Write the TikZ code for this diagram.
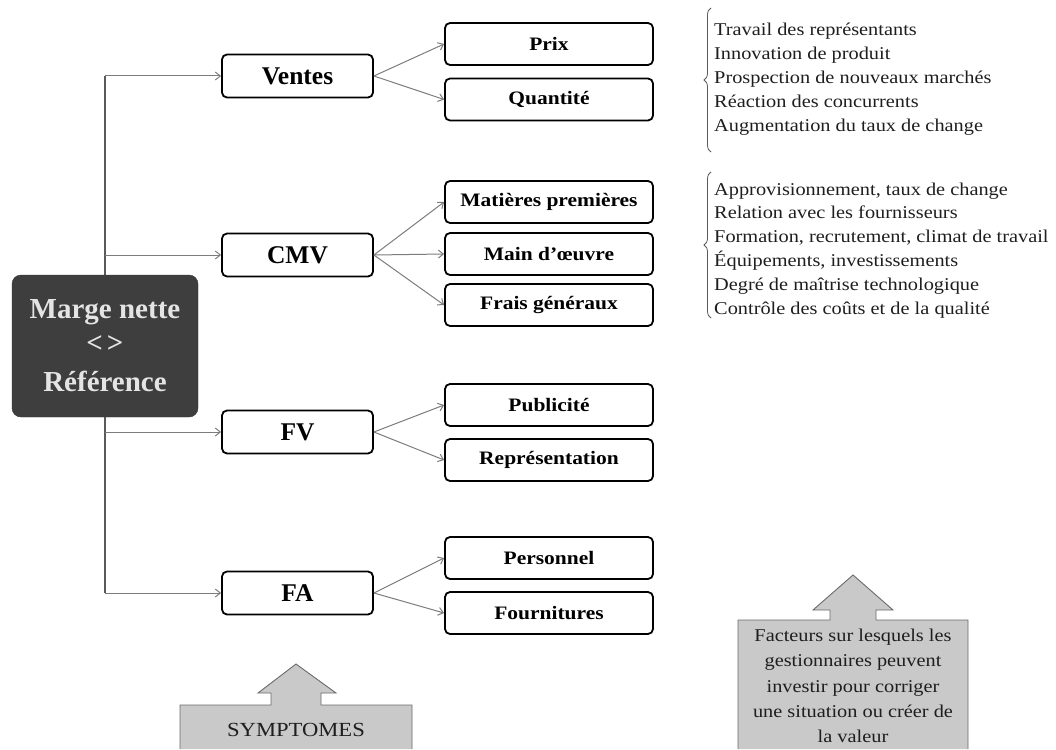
\documentclass[tikz,border=0pt]{standalone}
\usepackage{fontspec}
\setmainfont{Liberation Serif}
\newfontfamily\widefont{Liberation Serif}[FakeStretch=1.13]
\usetikzlibrary{arrows.meta,decorations.pathreplacing}

\definecolor{conn}{HTML}{7C7C7C}
\definecolor{spine}{HTML}{5A5A5A}
\definecolor{darkbox}{HTML}{3E3E3E}
\definecolor{boxtext}{HTML}{E4E4E4}
\definecolor{panel}{HTML}{C9C9C9}
\definecolor{panelrim}{HTML}{6A6A6A}
\definecolor{ink}{HTML}{1E1E1E}

\tikzset{
  mainbox/.style={draw=darkbox!80!black, fill=darkbox, rounded corners=9pt,
    minimum width=186pt, minimum height=142pt, align=center, text=boxtext,
    font=\fontsize{29}{37}\selectfont\bfseries},
  groupbox/.style={draw=black, line width=1.8pt, fill=white, rounded corners=5pt,
    minimum width=151pt, minimum height=43pt, inner sep=0pt,
    font=\fontsize{25.5}{28}\selectfont\bfseries},
  itembox/.style={draw=black, line width=1.8pt, fill=white, rounded corners=5pt,
    minimum width=208pt, minimum height=42pt, inner sep=0pt,
    font=\widefont\fontsize{19}{20}\selectfont\bfseries},
  link/.style={draw=conn, line width=1pt, -{Straight Barb[length=5pt,width=8pt]}},
  spineline/.style={draw=spine, line width=1.1pt},
  listline/.style={anchor=base west, inner sep=0pt, text=ink,
    font=\widefont\fontsize{18}{20}\selectfont},
  bracket/.style={draw=spine, line width=0.8pt, decorate,
    decoration={brace, amplitude=7pt}},
  panelshape/.style={fill=panel, draw=panelrim, line width=0.9pt},
  paneltext/.style={align=center, text=ink, inner sep=0pt,
    font=\widefont\fontsize{18}{25.3}\selectfont},
}

\begin{document}
\begin{tikzpicture}[x=1pt,y=-1pt]
\useasboundingbox (0,0) rectangle (1056,749);

% spine joining the four groups
\coordinate (s1) at (105,76);
\coordinate (s2) at (105,255);
\coordinate (s3) at (105,432);
\coordinate (s4) at (105,593);
\draw[spineline] (s1) -- (s4);

% central box
\node[mainbox] (marge) at (105,346) {Marge nette\\[-3pt]<\kern4pt>\\[2pt]Référence};

% groups
\node[groupbox] (ventes) at (297.5,76)  {Ventes};
\node[groupbox] (cmv)    at (297.5,255) {CMV};
\node[groupbox] (fv)     at (297.5,432) {FV};
\node[groupbox] (fa)     at (297.5,593) {FA};

% items
\node[itembox] (prix)  at (549,44)   {Prix};
\node[itembox] (quant) at (549,99.5) {Quantité};
\node[itembox] (mat)   at (549,202)  {Matières premières};
\node[itembox] (main)  at (549,254)  {Main d’œuvre};
\node[itembox] (frais) at (549,305)  {Frais généraux};
\node[itembox] (pub)   at (549,405)  {Publicité};
\node[itembox] (rep)   at (549,460)  {Représentation};
\node[itembox] (pers)  at (549,558)  {Personnel};
\node[itembox] (four)  at (549,613)  {Fournitures};

% connectors
\draw[link] (s1) -- (ventes.west);
\draw[link] (s2) -- (cmv.west);
\draw[link] (s3) -- (fv.west);
\draw[link] (s4) -- (fa.west);
\draw[link] (ventes.east) -- (prix.west);
\draw[link] (ventes.east) -- (quant.west);
\draw[link] (cmv.east) -- (mat.west);
\draw[link] (cmv.east) -- (main.west);
\draw[link] (cmv.east) -- (frais.west);
\draw[link] (fv.east) -- (pub.west);
\draw[link] (fv.east) -- (rep.west);
\draw[link] (fa.east) -- (pers.west);
\draw[link] (fa.east) -- (four.west);

% factor lists
\draw[bracket] (711,152) -- (711,8);
\foreach \t [count=\i] in {Travail des représentants,Innovation de produit,
    Prospection de nouveaux marchés,Réaction des concurrents,
    Augmentation du taux de change}
  \node[listline] (ventesf\i) at (714,{36+23.8*(\i-1)}) {\t};

\draw[bracket] (711,318) -- (711,172);
\foreach \t [count=\i] in {{Approvisionnement, taux de change},
    Relation avec les fournisseurs,
    {Formation, recrutement, climat de travail},
    {Équipements, investissements},
    Degré de maîtrise technologique,
    Contrôle des coûts et de la qualité}
  \node[listline] (cmvf\i) at (714,{195+23.8*(\i-1)}) {\t};

% bottom panels with upward arrows
\path[panelshape] (180,749) -- (180,705) -- (271,705) -- (271,693) -- (258,693)
  -- (296,664) -- (336,693) -- (321,693) -- (321,705) -- (412,705) -- (412,749);
\node[paneltext, font=\fontsize{20}{24}\selectfont\widefont] (sympt) at (296,730) {SYMPTOMES};

\path[panelshape] (738,749) -- (738,620) -- (830,620) -- (830,610) -- (813,610)
  -- (853,575) -- (893,610) -- (876,610) -- (876,620) -- (968,620) -- (968,749);
\node[paneltext, anchor=north] (facteurs) at (853,629)
  {Facteurs sur lesquels les\\gestionnaires peuvent\\investir pour corriger\\une situation ou créer de\\la valeur};
\end{tikzpicture}
\end{document}
